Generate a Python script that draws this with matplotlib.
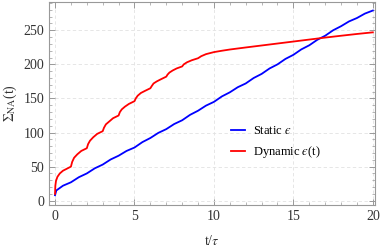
import numpy as np
import matplotlib
matplotlib.use('Agg')
import matplotlib.pyplot as plt
from matplotlib.ticker import MultipleLocator

plt.rcParams['font.family'] = ['Liberation Serif', 'DejaVu Serif']
plt.rcParams['mathtext.fontset'] = 'stix'

# static epsilon (blue)
t_static = [0, 0.08, 0.5, 1, 1.5, 2, 2.5, 3, 3.5, 4, 4.5, 5, 5.5, 6, 6.5, 7, 7.5, 8,
            8.5, 9, 9.5, 10, 10.5, 11, 11.5, 12, 12.5, 13, 13.5, 14, 14.5, 15, 15.5,
            16, 16.5, 17, 17.5, 18, 18.5, 19, 19.5, 20]
s_static = [8, 15, 22, 27, 34.5, 40, 47.5, 53, 60.5, 66, 73, 78, 86, 92, 99.5, 105,
            112.5, 118, 126, 132, 139.5, 145, 153, 159, 166.5, 172, 180, 186, 194,
            200, 208, 214, 222, 228, 236, 242, 250, 256, 263, 268, 274.5, 279]

# dynamic epsilon(t) (red)
t_dyn = [0, 0.02, 0.06, 0.15, 0.3, 0.5, 0.75, 1.0,
         1.08, 1.2, 1.4, 1.65, 2.0,
         2.08, 2.2, 2.4, 2.65, 3.0,
         3.08, 3.2, 3.4, 3.65, 4.0,
         4.08, 4.2, 4.4, 4.65, 5.0,
         5.08, 5.2, 5.4, 5.65, 6.0,
         6.08, 6.2, 6.4, 6.65, 7.0,
         7.08, 7.2, 7.4, 7.65, 8.0,
         8.1, 8.3, 8.6, 9.0,
         9.2, 9.5, 10.0, 10.5,
         11, 12, 13, 14, 15, 16, 17, 18, 19, 20]
s_dyn = [10, 22, 29, 35, 40, 44, 47, 50,
         57, 63, 68, 73, 77,
         83, 88, 93, 98, 102,
         107, 112, 116, 121, 125,
         130, 134, 138, 142, 146,
         150, 154, 158, 161, 165,
         168, 172, 175, 178, 182,
         185, 188, 191, 194, 197,
         200, 203, 206, 209,
         212, 215, 218, 220,
         221.8, 224.8, 227.7, 230.6, 233.5, 236.4, 239.3, 242, 244.6, 247]

labels = ['Static $\u03f5$', 'Dynamic $\u03f5$(t)']

fig = plt.figure(figsize=(3.81, 2.5), dpi=100)
ax = fig.add_axes([0.1286, 0.18, 0.8554, 0.812])

ax.plot(t_static, s_static, color='#0000ff', lw=1.3, label=labels[0])
ax.plot(t_dyn, s_dyn, color='#ff0000', lw=1.3, label=labels[1])

ax.set_xlim(-0.38, 20.13)
ax.set_ylim(-6.3, 291.5)

ax.xaxis.set_major_locator(MultipleLocator(5))
ax.xaxis.set_minor_locator(MultipleLocator(1))
ax.yaxis.set_major_locator(MultipleLocator(50))
ax.yaxis.set_minor_locator(MultipleLocator(10))

ax.grid(True, which='major', color='#e2e2e2', ls=(0, (4, 3)), lw=0.6)
for sp in ax.spines.values():
    sp.set_color('#999999')
    sp.set_linewidth(0.8)
ax.tick_params(which='both', direction='in', top=True, right=True,
               color='#999999', labelcolor='#333333', labelsize=10)
ax.tick_params(which='major', length=4, width=0.7)
ax.tick_params(which='minor', length=2, width=0.5)

ax.set_xlabel('t/$\\tau$', fontsize=10, color='#333333', labelpad=8)
ax.set_ylabel('$\\Sigma_{\\mathrm{NA}}$(t)', fontsize=10, color='#333333', labelpad=3)

ax.legend(loc='upper left', bbox_to_anchor=(0.525, 0.45), frameon=False,
          fontsize=9, handlelength=1.1, handletextpad=0.6, labelspacing=0.6)

fig.savefig('out.png', dpi=100)
